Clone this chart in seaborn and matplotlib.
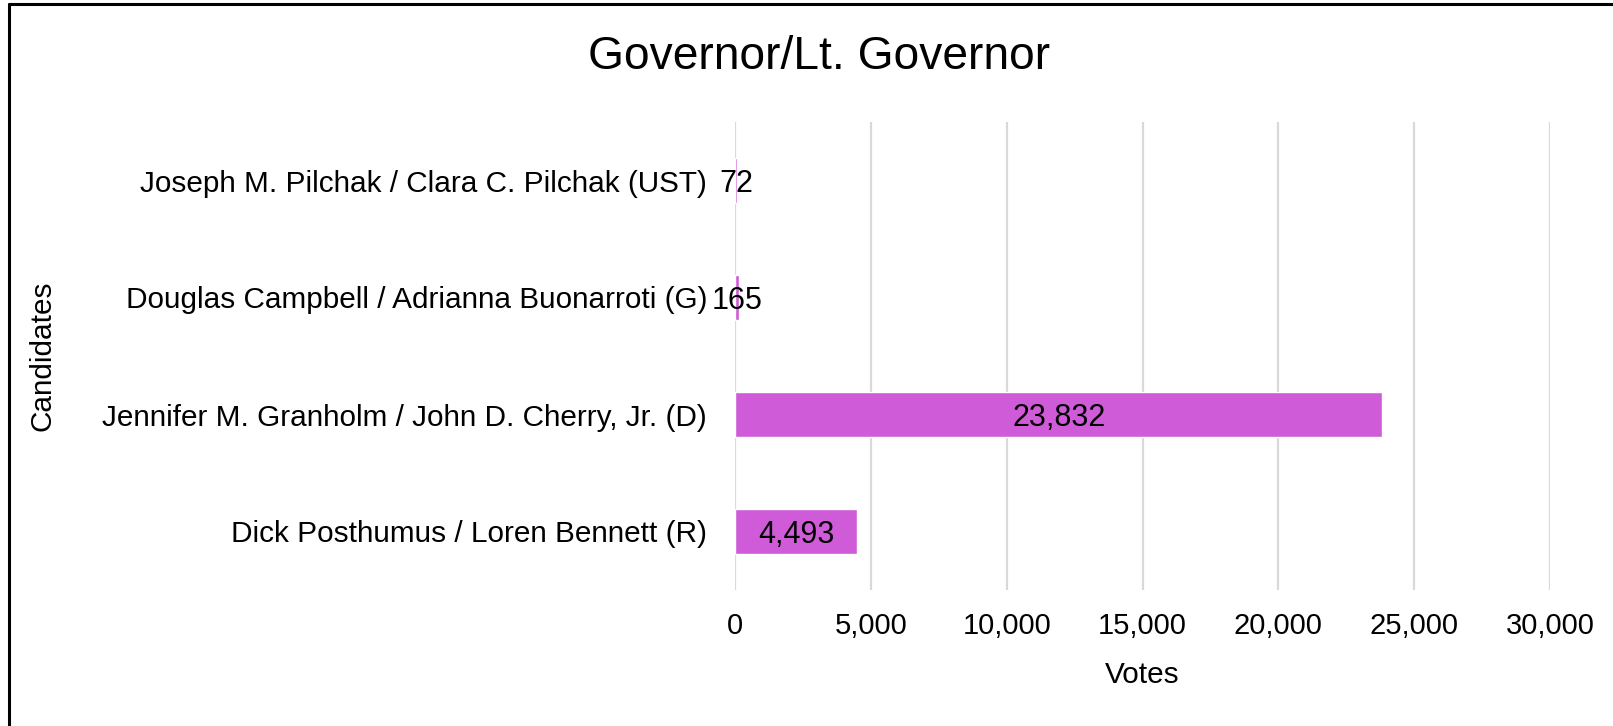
import matplotlib
matplotlib.use("Agg")
import matplotlib.pyplot as plt
from matplotlib.lines import Line2D
import seaborn as sns
import pandas as pd

candidates = [
    "Joseph M. Pilchak / Clara C. Pilchak (UST)",
    "Douglas Campbell / Adrianna Buonarroti (G)",
    "Jennifer M. Granholm / John D. Cherry, Jr. (D)",
    "Dick Posthumus / Loren Bennett (R)",
]
votes = [72, 165, 23832, 4493]
xticks = [0, 5000, 10000, 15000, 20000, 25000, 30000]

sns.set_theme(style="white")
plt.rcParams["font.family"] = ["Liberation Sans", "DejaVu Sans"]

W, H = 1613, 726
fig = plt.figure(figsize=(W / 100, H / 100), dpi=100)
ax = fig.add_axes([735 / W, 1 - 590 / H, (1550 - 735) / W, (590 - 122) / H])

df = pd.DataFrame({"Candidates": candidates, "Votes": votes})
sns.barplot(data=df, x="Votes", y="Candidates", orient="h", color="#CF5BD8",
            saturation=1, width=0.39, ax=ax, order=candidates)

ax.set_xlim(0, 30000)
ax.set_xticks(xticks)
ax.set_xticklabels([f"{v:,}" for v in xticks])
ax.grid(axis="x", color="#D9D9D9", linewidth=1.6)
ax.set_axisbelow(True)
for s in ax.spines.values():
    s.set_visible(False)
ax.tick_params(axis="x", length=0, pad=16, labelsize=21, labelcolor="black")
ax.tick_params(axis="y", length=0, pad=20, labelsize=21.4, labelcolor="black")
ax.set_xlabel("Votes", fontsize=21.4, color="black", labelpad=15)
ax.set_ylabel("Candidates", fontsize=21.4, color="black", labelpad=33)

for c in ax.containers:
    texts = ax.bar_label(c, labels=[f"{v:,}" for v in votes], label_type="center",
                         fontsize=22, color="black")
    for t in texts:
        t.set_verticalalignment("center_baseline")

fig.text(819 / W, 1 - 57 / H, "Governor/Lt. Governor", fontsize=33.2,
         ha="center", va="center", color="black")

fig.add_artist(Line2D([8.5 / W, 8.5 / W], [0, 1 - 3.5 / H], color="black",
                      linewidth=2.2, transform=fig.transFigure))
fig.add_artist(Line2D([8.5 / W, 1], [1 - 3.5 / H, 1 - 3.5 / H], color="black",
                      linewidth=2.2, transform=fig.transFigure))

fig.savefig("out.png", dpi=100, facecolor="white")
